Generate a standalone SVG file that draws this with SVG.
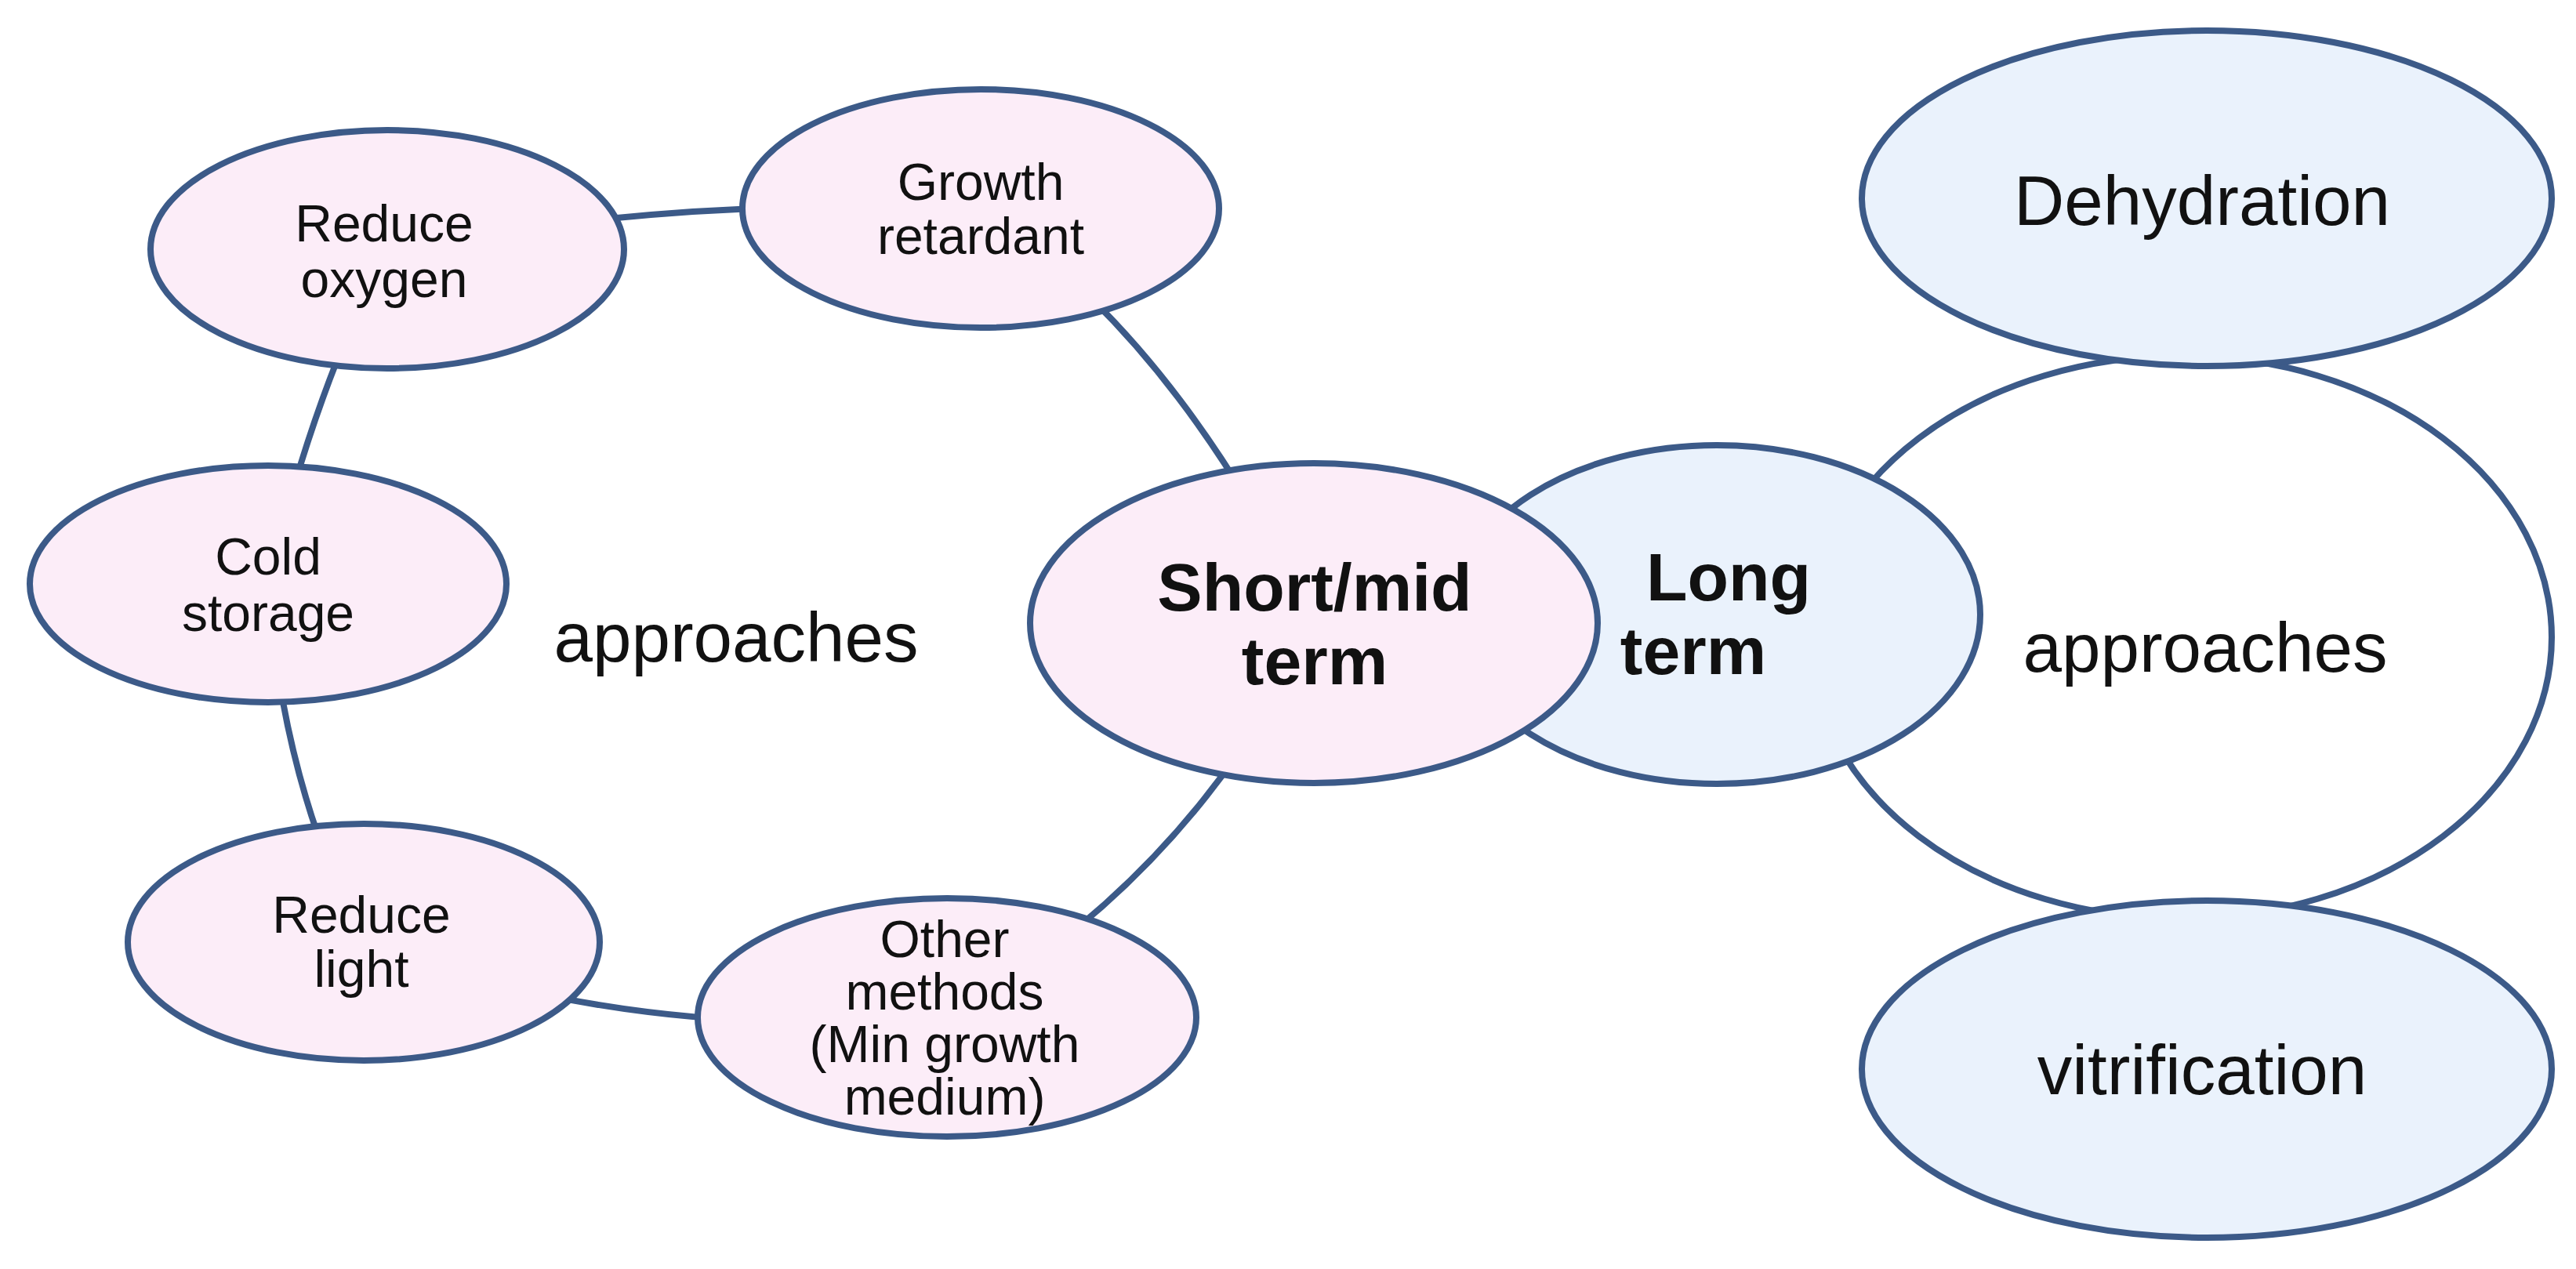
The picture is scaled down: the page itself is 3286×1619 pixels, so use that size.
<svg xmlns="http://www.w3.org/2000/svg" width="3286" height="1619" viewBox="0 0 3286 1619">
<style>
.n{stroke:#3c5a88;stroke-width:8}
.p{fill:#fcedf8}
.b{fill:#eaf2fc}
.c{fill:none;stroke:#3c5a88;stroke-width:8}
text{font-family:"Liberation Sans",Arial,sans-serif;fill:#111;text-anchor:middle;dominant-baseline:central}
.s{font-size:66px}
.m{font-size:89px}
.bd{font-size:86px;font-weight:bold}
</style>
<rect width="3286" height="1619" fill="#fff"/>
<g id="connectors">
<path class="c" d="M494,318 Q870,250 1251,266"/>
<path class="c" d="M1251,266 Q1500,430 1676,795"/>
<path class="c" d="M1676,795 Q1520,1120 1208,1298"/>
<path class="c" d="M1208,1298 Q800,1330 464,1202"/>
<path class="c" d="M464,1202 Q360,1000 342,745"/>
<path class="c" d="M342,745 Q400,500 494,318"/>
<ellipse class="c" fill="#fff" cx="2782" cy="813" rx="473" ry="359"/>
</g>
<text class="m" x="939" y="813">approaches</text>
<text class="m" x="2813" y="826">approaches</text>
<g id="dehydration"><ellipse class="n b" cx="2815" cy="253" rx="440" ry="214"/><text class="m" x="2809" y="256">Dehydration</text></g>
<g id="vitrification"><ellipse class="n b" cx="2815" cy="1364" rx="440" ry="215"/><text class="m" x="2809" y="1365">vitrification</text></g>
<g id="long"><ellipse class="n b" cx="2190" cy="784" rx="336" ry="216"/><text class="bd" x="2205" y="736">Long</text><text class="bd" x="2160" y="830">term</text></g>
<g id="short"><ellipse class="n p" cx="1676" cy="795" rx="362" ry="204"/><text class="bd" x="1677" y="749">Short/mid</text><text class="bd" x="1677" y="843">term</text></g>
<g id="oxygen"><ellipse class="n p" cx="494" cy="318" rx="302" ry="152"/><text class="s" x="490" y="285">Reduce</text><text class="s" x="490" y="356">oxygen</text></g>
<g id="growth"><ellipse class="n p" cx="1251" cy="266" rx="304" ry="152"/><text class="s" x="1251" y="232">Growth</text><text class="s" x="1251" y="301">retardant</text></g>
<g id="cold"><ellipse class="n p" cx="342" cy="745" rx="304" ry="151"/><text class="s" x="342" y="710">Cold</text><text class="s" x="342" y="782">storage</text></g>
<g id="light"><ellipse class="n p" cx="464" cy="1202" rx="301" ry="151"/><text class="s" x="461" y="1167">Reduce</text><text class="s" x="461" y="1236">light</text></g>
<g id="other"><ellipse class="n p" cx="1208" cy="1298" rx="318" ry="152"/><text class="s" x="1205" y="1198">Other</text><text class="s" x="1205" y="1265">methods</text><text class="s" x="1205" y="1332">(Min growth</text><text class="s" x="1205" y="1399">medium)</text></g>
</svg>
